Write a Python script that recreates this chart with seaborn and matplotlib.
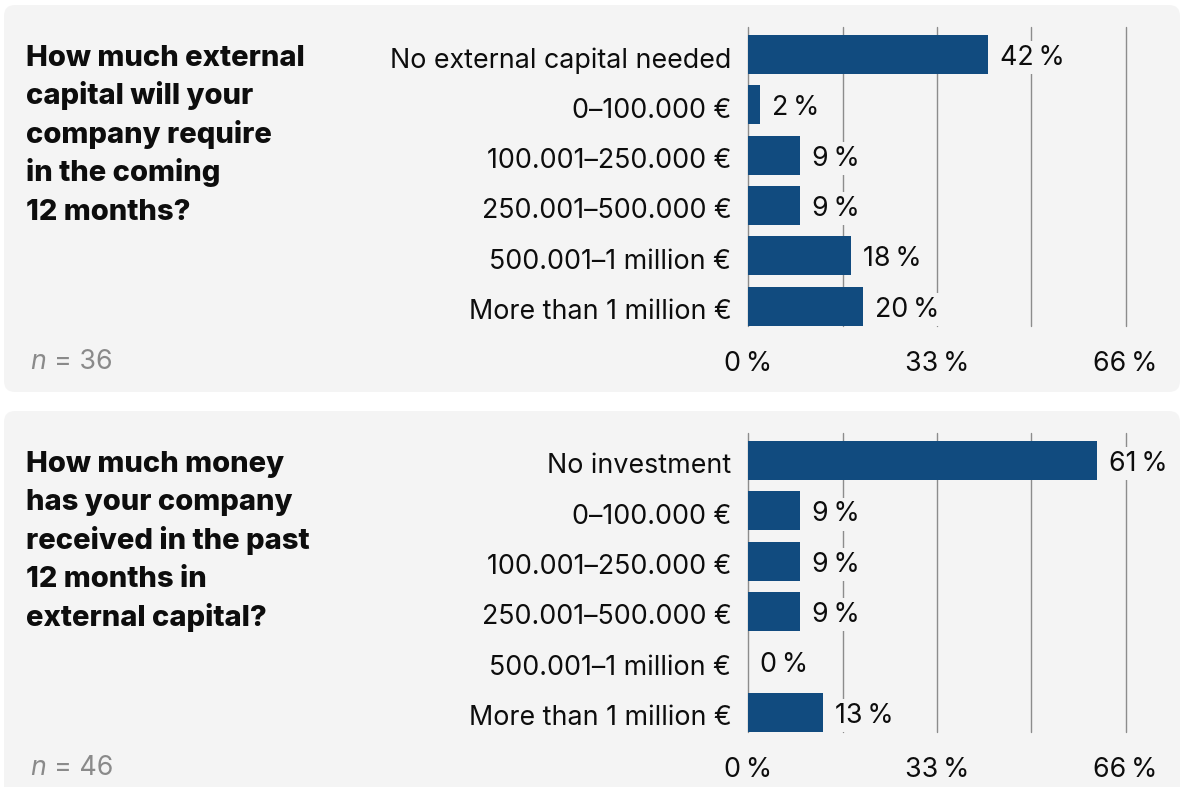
import matplotlib
matplotlib.use("Agg")
import matplotlib.pyplot as plt
from matplotlib.patches import FancyBboxPatch
from matplotlib.transforms import ScaledTranslation
import seaborn as sns
import pandas as pd

# ---- data -------------------------------------------------------------
need_categories = [
    "No external capital needed",
    "0–100.000 €",
    "100.001–250.000 €",
    "250.001–500.000 €",
    "500.001–1 million €",
    "More than 1 million €",
]
need_values = [42, 2, 9, 9, 18, 20]
need_question = ["How much external", "capital will your", "company require",
                 "in the coming", "12 months?"]
need_n = 36

received_categories = [
    "No investment",
    "0–100.000 €",
    "100.001–250.000 €",
    "250.001–500.000 €",
    "500.001–1 million €",
    "More than 1 million €",
]
received_values = [61, 9, 9, 9, 0, 13]
received_question = ["How much money", "has your company", "received in the past",
                     "12 months in", "external capital?"]
received_n = 46

grid_values = [0, 16.5, 33, 49.5, 66]
grid_labels = ["0\u2009%", "", "33\u2009%", "", "66\u2009%"]

# ---- style ------------------------------------------------------------
sns.set_style("white")
plt.rcParams["font.family"] = ["Inter", "DejaVu Sans"]

W, H = 1182, 787
BAR = "#114b7f"
PANEL = "#f4f4f4"
INK = "#0d0d0d"
GRID = "#8c8c8c"
MUTED = "#8a8a8a"
REG = 19.3
BOLD = 21.0

fig = plt.figure(figsize=(W / 100, H / 100), dpi=100)
fig.patch.set_facecolor("white")

# full-figure layer in pixel units for the panels and free text
bg = fig.add_axes([0, 0, 1, 1], zorder=0)
bg.set_xlim(0, W)
bg.set_ylim(H, 0)
bg.axis("off")

shift_down = ScaledTranslation(0, -2.0 / 72, fig.dpi_scale_trans)


def draw_panel(top, bottom, cats, values, question, n):
    bg.add_patch(FancyBboxPatch((4, top), 1176, bottom - top,
                                boxstyle="round,pad=0,rounding_size=11",
                                facecolor=PANEL, edgecolor="none"))
    for i, line in enumerate(question):
        bg.text(26, top + 61.0 + i * 38.4, line, fontsize=BOLD,
                fontweight=800, color=INK, va="baseline", ha="left")
    bg.text(30, top + 364, "n", fontsize=REG, fontstyle="italic",
            color=MUTED, va="baseline", ha="left")
    bg.text(54, top + 364, "= " + str(n), fontsize=REG,
            color=MUTED, va="baseline", ha="left")

    ax_top = top + 22
    ax = fig.add_axes([748 / W, 1 - (ax_top + 299) / H, 378 / W, 299 / H],
                      zorder=1)
    ax.patch.set_alpha(0)
    df = pd.DataFrame({"category": cats, "share": values})
    sns.barplot(data=df, x="share", y="category", color=BAR, saturation=1,
                width=0.774, linewidth=0, edgecolor="none", ax=ax, zorder=2)
    ax.set_xlim(-0.08, 66.08)
    ax.set_ylim(5.394, -0.546)
    ax.set_xticks(grid_values)
    ax.set_xticklabels(grid_labels, fontsize=REG, color=INK)
    ax.tick_params(axis="x", length=0, pad=18)
    ax.tick_params(axis="y", length=0, pad=12, labelsize=REG, labelcolor=INK)
    for lab in ax.get_yticklabels():
        lab.set_transform(lab.get_transform() + shift_down)
    ax.set_xlabel("")
    ax.set_ylabel("")
    ax.grid(axis="x", color=GRID, linewidth=1.0)
    ax.grid(axis="y", visible=False)
    for gl in ax.get_xgridlines():
        gl.set_clip_on(False)
    ax.set_axisbelow(True)
    for s in ax.spines.values():
        s.set_visible(False)
    anns = ax.bar_label(ax.containers[0],
                        labels=[f"{v}\u2009%" for v in values],
                        padding=9, fontsize=REG, color=INK, zorder=3,
                        bbox=dict(facecolor=PANEL, edgecolor="none", pad=2.5))
    for a in anns:
        a.xyann = (8.5, -2.5)
    return ax


draw_panel(5, 392, need_categories, need_values, need_question, need_n)
draw_panel(411, 800, received_categories, received_values,
           received_question, received_n)

fig.savefig("out.png", dpi=100, facecolor="white")
